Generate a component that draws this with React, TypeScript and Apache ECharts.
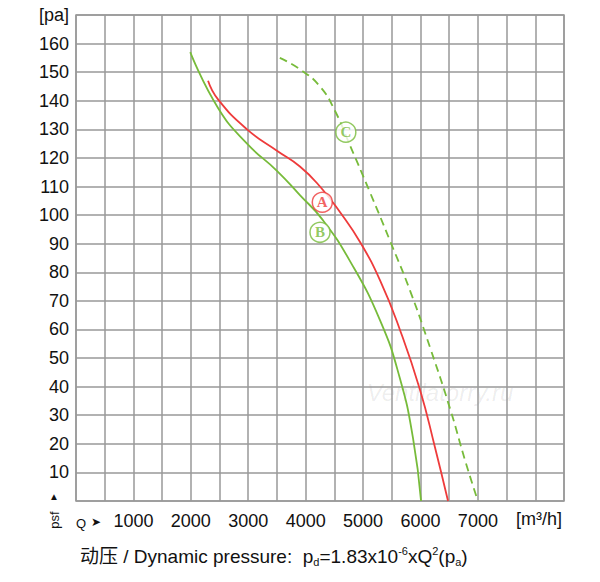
import React, { useEffect, useRef } from "react";
import * as echarts from "echarts";

const curveA = [[2300,147],[2474,140.5],[2979,130],[3500,122.5],[3900,117],[4250,110],[4600,101],[4950,90.5],[5300,77],[5640,60],[5990,39],[6250,19],[6480,0]];
const curveB = [[1990,157],[2474,137.5],[2979,125],[3500,115.5],[3900,107],[4290,98.5],[4770,84],[5300,63],[5640,43],[5870,22],[6010,0]];
const curveC = [[3550,155],[3900,151],[4250,145],[4510,136.5],[4770,124.5],[5120,108],[5470,91],[5820,73.5],[6170,53.5],[6520,32],[6780,14],[7000,0]];
const tagA = [[4290,104.5]];
const tagB = [[4250,94]];
const tagC = [[4700,129]];

const RED = "#ee3b3b";
const GREEN = "#77bb3a";

export default function App() {
  const ref = useRef<HTMLDivElement>(null);
  useEffect(() => {
    document.body.style.margin = "0";
    const chart = echarts.init(ref.current!, null, { renderer: "svg" });
    const font = "'Liberation Sans', Arial, sans-serif";
    const tag = (d: number[][], name: string, color: string) => ({
      type: "scatter", data: d, symbol: "circle", symbolSize: 20,
      itemStyle: { color: "#fff", borderColor: color, borderWidth: 1.5 },
      label: { show: true, position: "inside", formatter: name, color, fontSize: 15, fontWeight: "bold", fontFamily: "'Liberation Serif', serif" },
      z: 5,
    });
    const line = (d: number[][], color: string, dash?: number[]) => ({
      type: "line", data: d, smooth: 0.5, symbol: "none",
      lineStyle: { color, width: 1.8, type: dash || "solid" },
    });
    chart.setOption({
      animation: false,
      grid: { left: 76, right: 36, top: 15, bottom: 81 },
      xAxis: {
        type: "value", min: 0, max: 8500, interval: 500,
        axisLine: { show: false }, axisTick: { show: false },
        splitLine: { lineStyle: { color: "#999", width: 1.5 } },
        axisLabel: {
          fontSize: 18, color: "#111", fontFamily: font, margin: 11,
          formatter: (v: number) => (v % 1000 === 0 && v > 0 && v < 8000 ? String(v) : ""),
        },
      },
      yAxis: {
        type: "value", min: 0, max: 170, interval: 10,
        axisLine: { show: false }, axisTick: { show: false },
        splitLine: { lineStyle: { color: "#999", width: 1.5 } },
        axisLabel: {
          fontSize: 18, color: "#111", fontFamily: font, margin: 7,
          formatter: (v: number) => (v === 170 ? "[pa]" : v === 0 ? "" : String(v)),
        },
      },
      graphic: [
        { type: "rect", shape: { x: 76, y: 15, width: 488, height: 486 }, style: { fill: "none", stroke: "#999", lineWidth: 1.5 }, silent: true },
        { type: "text", x: 440, y: 392, style: { text: "Ventilatorry.ru", fontSize: 24, fontStyle: "italic", fill: "rgba(0,0,0,0.08)", fontFamily: font, align: "center", verticalAlign: "middle" } },
        { type: "text", x: 54, y: 496, style: { text: "▲", fontSize: 10, fill: "#111", align: "center", verticalAlign: "middle" } },
        { type: "text", x: 54, y: 520, rotation: Math.PI / 2, style: { text: "psf", fontSize: 13, fill: "#111", fontFamily: font, align: "center", verticalAlign: "middle" } },
        { type: "text", x: 76, y: 523, style: { text: "Q", fontSize: 13, fill: "#111", fontFamily: font, verticalAlign: "middle" } },
        { type: "text", x: 91, y: 522, style: { text: "➤", fontSize: 12, fill: "#111", verticalAlign: "middle" } },
        { type: "text", x: 516, y: 519, style: { text: "[m³/h]", fontSize: 18, fill: "#111", fontFamily: font, verticalAlign: "middle" } },
        {
          type: "text", x: 80, y: 556,
          style: {
            text: "动压 / Dynamic pressure:  {n|p}{s|d}{n|=1.83x10}{u|-6}{n|xQ}{u|2}{n|(p}{s|a}{n|)}",
            fontSize: 19, fill: "#111", fontFamily: "'Liberation Sans', 'Noto Sans CJK SC', sans-serif", verticalAlign: "middle",
            rich: {
              n: { fontSize: 19, fontFamily: font, fill: "#111" },
              s: { fontSize: 11, fontFamily: font, fill: "#111", verticalAlign: "bottom", padding: [11, 0, 0, 0] },
              u: { fontSize: 11, fontFamily: font, fill: "#111", verticalAlign: "top", padding: [0, 0, 9, 0] },
            },
          },
        },
      ],
      series: [
        line(curveB, GREEN),
        line(curveA, RED),
        line(curveC, GREEN, [8, 5]),
        tag(tagA, "A", RED),
        tag(tagB, "B", GREEN),
        tag(tagC, "C", GREEN),
      ],
    });
    return () => chart.dispose();
  }, []);
  return <div ref={ref} style={{ width: 600, height: 582 }} />;
}
